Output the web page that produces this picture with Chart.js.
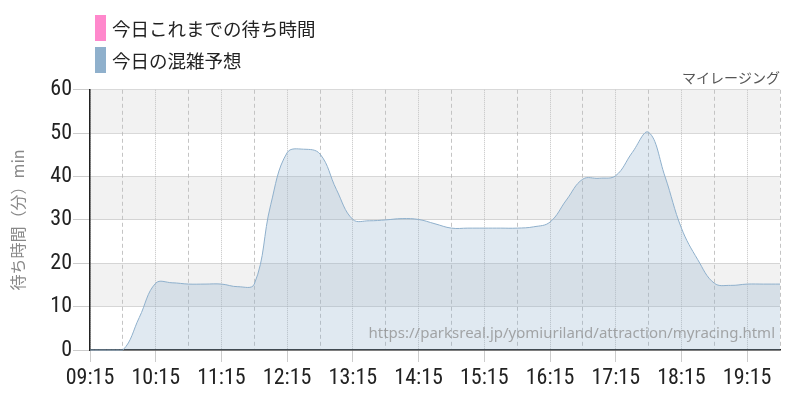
<!DOCTYPE html>
<html>
<head>
<meta charset="utf-8">
<script src="https://cdn.jsdelivr.net/npm/chart.js@4/dist/chart.umd.min.js"></script>
<style>
  body { margin: 0; background: #fff; }
  #wrap { position: relative; width: 800px; height: 400px; }
  #legend { position: absolute; left: 95px; top: 15px; font-family: "Noto Sans CJK JP", sans-serif; font-size: 18.5px; color: #222; }
  #legend div { display: flex; align-items: center; height: 26px; margin-bottom: 6px; }
  #legend span.box { display: inline-block; width: 11px; height: 26px; margin-right: 6px; }
</style>
</head>
<body>
<div id="wrap">
  <canvas id="myChart" width="800" height="400"></canvas>
  <div id="legend"></div>
</div>
<script>
// 15 minute steps, 09:15 - 19:45
var times = ['09:15', '09:30', '09:45', '10:00', '10:15', '10:30', '10:45', '11:00', '11:15', '11:30', '11:45',
             '12:00', '12:15', '12:30', '12:45', '13:00', '13:15', '13:30', '13:45', '14:00', '14:15', '14:30',
             '14:45', '15:00', '15:15', '15:30', '15:45', '16:00', '16:15', '16:30', '16:45', '17:00', '17:15',
             '17:30', '17:45', '18:00', '18:15', '18:30', '18:45', '19:00', '19:15', '19:30', '19:45'];
var forecast = [0, 0, 0, 7.5, 15.4, 15.5, 15.2, 15.2, 15.2, 14.6, 15.2,
                33.5, 45.5, 46.3, 45.2, 37, 30.1, 29.8, 30, 30.3, 30.1, 29.1,
                28.1, 28.1, 28.1, 28.1, 28.1, 28.4, 29.5, 34.6, 39.4, 39.6, 40.2,
                45.5, 50.2, 40, 28.1, 20.8, 15.4, 14.9, 15.2, 15.2, 15.2];
var actual = [];
var seriesNames = ['今日これまでの待ち時間', '今日の混雑予想'];
var yTicks = [0, 10, 20, 30, 40, 50, 60];
var attraction = 'マイレージング';
var sourceUrl = 'https://parksreal.jp/yomiuriland/attraction/myracing.html';

function toMin(t) {
    var p = t.split(':');
    return parseInt(p[0], 10) * 60 + parseInt(p[1], 10);
}
function fmt(m) {
    var h = Math.floor(m / 60), mm = m % 60;
    return (h < 10 ? '0' : '') + h + ':' + (mm < 10 ? '0' : '') + mm;
}

var xMin = toMin(times[0]);
var xMax = toMin(times[times.length - 1]);
var numFont = "'Roboto Condensed', 'DejaVu Sans Condensed', 'Liberation Sans Narrow', sans-serif";

// grey bands 10-20, 30-40, 50-60
var bandPlugin = {
    id: 'bands',
    beforeDraw: function(chart) {
        var ctx = chart.ctx, a = chart.chartArea, y = chart.scales.y;
        ctx.save();
        ctx.fillStyle = '#f2f2f2';
        for (var i = 1; i < yTicks.length; i += 2) {
            var top = y.getPixelForValue(yTicks[i + 1] !== undefined ? yTicks[i + 1] : yTicks[i]);
            var bot = y.getPixelForValue(yTicks[i]);
            ctx.fillRect(a.left, top, a.right - a.left, bot - top);
        }
        ctx.restore();
    }
};

var sourcePlugin = {
    id: 'source',
    afterDatasetsDraw: function(chart) {
        var ctx = chart.ctx, a = chart.chartArea;
        ctx.save();
        ctx.font = "15px 'Noto Sans', sans-serif";
        ctx.fillStyle = 'rgba(140,140,140,0.75)';
        ctx.textAlign = 'right';
        ctx.textBaseline = 'alphabetic';
        ctx.fillText(sourceUrl, a.right - 5, a.bottom - 12);
        ctx.restore();
    }
};

var chart = new Chart("myChart", {
    type: "line",
    data: {
        datasets: [{
            label: seriesNames[0],
            data: actual,
            borderColor: '#ff88cc',
            backgroundColor: '#ff88cc',
            pointRadius: 0
        }, {
            label: seriesNames[1],
            data: times.map(function(t, i) { return {x: toMin(t), y: forecast[i]}; }),
            borderColor: '#8fb0cc',
            backgroundColor: 'rgba(143,176,204,0.28)',
            borderWidth: 1,
            fill: 'origin',
            tension: 0.4,
            pointRadius: 0,
            clip: { left: 0, top: 0, right: 0, bottom: 4 }
        }]
    },
    options: {
        responsive: false,
        animation: false,
        layout: { padding: { right: 20 } },
        plugins: {
            legend: { display: false },
            tooltip: { enabled: false },
            title: {
                display: true,
                text: attraction,
                align: 'end',
                color: '#555',
                font: { size: 14, family: "'Noto Sans CJK JP', sans-serif", weight: 'normal' },
                padding: { top: 69, bottom: 4 }
            }
        },
        scales: {
            x: {
                type: 'linear',
                min: xMin,
                max: xMax,
                afterFit: function(s) { s.height = 50; },
                ticks: {
                    stepSize: 30,
                    autoSkip: false,
                    maxRotation: 0,
                    padding: 3,
                    color: '#222',
                    font: { size: 22, family: numFont },
                    callback: function(v) { return v % 60 === 15 ? fmt(v) : ''; }
                },
                grid: {
                    color: '#c4c4c4',
                    tickLength: 12,
                    tickColor: function(c) { return c.tick && c.tick.value % 60 === 15 ? '#ccc' : 'rgba(0,0,0,0)'; }
                },
                border: {
                    color: '#222',
                    width: 1.5,
                    dash: function(c) {
                        if (!c.tick) return [];
                        return c.tick.value % 60 === 15 ? [1, 1] : [4, 3];
                    }
                }
            },
            y: {
                min: yTicks[0],
                max: yTicks[yTicks.length - 1],
                afterFit: function(s) { s.width = 90; },
                afterBuildTicks: function(s) { s.ticks = yTicks.map(function(v) { return {value: v}; }); },
                ticks: {
                    padding: 1,
                    color: '#222',
                    font: { size: 22, family: numFont }
                },
                grid: {
                    color: '#b4b4b4',
                    tickLength: 17,
                    tickColor: '#ccc'
                },
                border: {
                    color: '#222',
                    width: 1.5,
                    dash: function(c) { return c.tick ? [1, 1] : []; }
                },
                title: {
                    display: true,
                    text: '待ち時間（分）min',
                    color: '#888',
                    font: { size: 16, family: "'Noto Sans CJK JP', sans-serif" },
                    padding: { top: 8, bottom: 0 }
                }
            }
        }
    },
    plugins: [bandPlugin, sourcePlugin]
});

// html legend built from the chart datasets
var legendEl = document.getElementById('legend');
chart.data.datasets.forEach(function(ds) {
    var row = document.createElement('div');
    var box = document.createElement('span');
    box.className = 'box';
    box.style.background = ds.borderColor;
    row.appendChild(box);
    row.appendChild(document.createTextNode(ds.label));
    legendEl.appendChild(row);
});
</script>
</body>
</html>
